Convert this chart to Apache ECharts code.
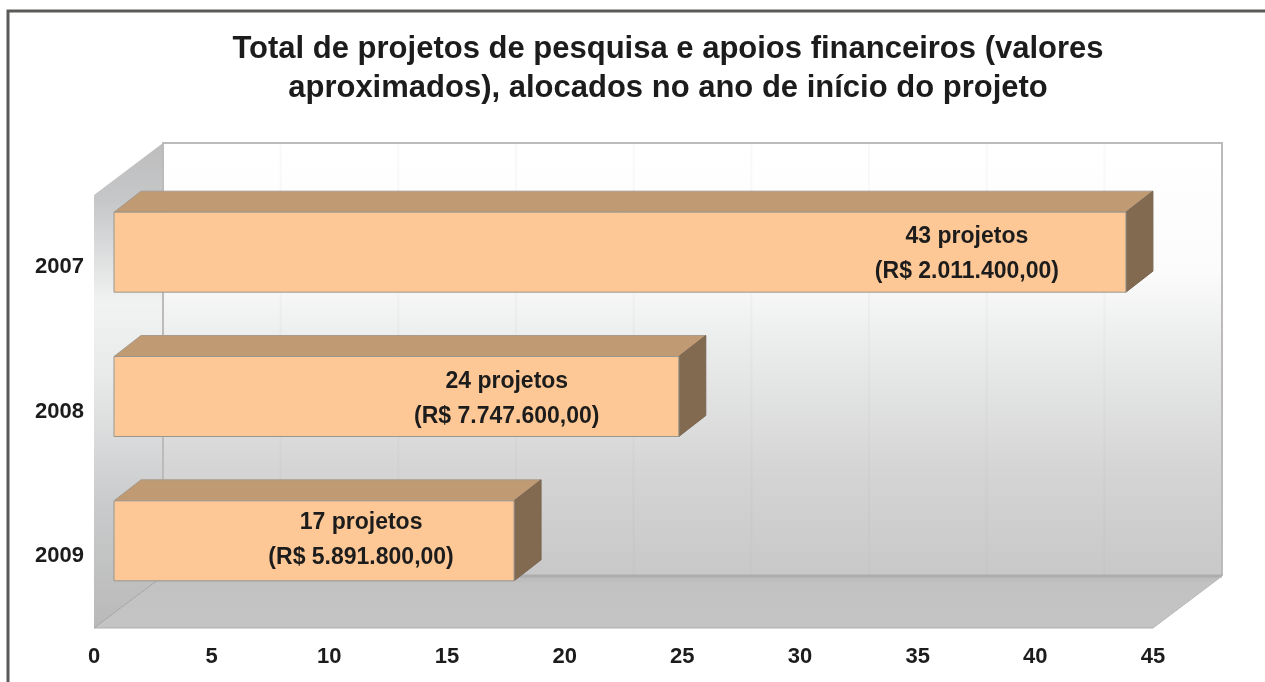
<!DOCTYPE html>
<html>
<head>
<meta charset="utf-8">
<style>html,body{margin:0;padding:0;background:#fff}#c{width:1265px;height:682px}#c canvas{filter:blur(0.6px)}</style>
<script src="https://cdn.jsdelivr.net/npm/echarts@6/dist/echarts.min.js"></script>
</head>
<body>
<div id="c"></div>
<script>
const titleText = "Total de projetos de pesquisa e apoios financeiros (valores\naproximados), alocados no ano de início do projeto";
const years = ["2007", "2008", "2009"];
const projectCounts = [43, 24, 17];
const projectLabels = ["43 projetos", "24 projetos", "17 projetos"];
const amountLabels = ["(R$ 2.011.400,00)", "(R$ 7.747.600,00)", "(R$ 5.891.800,00)"];
const axisMin = 0, axisMax = 45, axisStep = 5;

const FONT = '"Liberation Sans", Arial, sans-serif';
const TEXT = '#1c1c1c';
const WALL_DX = 69, WALL_DY = -52;
const BAR_SHIFT_X = 20, BAR_SHIFT_Y = -15, BAR_H = 80;
const BAR_DX = 27, BAR_DY = -21;
const labelInset = [159, 172, 153];
const labelDrop = [2, 3, -1];

function poly(points, fill, stroke, lw) {
  return { type: 'polygon', shape: { points }, style: { fill, stroke: stroke || null, lineWidth: lw || 0 } };
}
function vgrad(stops) {
  return { type: 'linear', x: 0, y: 0, x2: 0, y2: 1,
    colorStops: stops.map(s => ({ offset: s[0], color: s[1] })) };
}

function renderWalls(params, api) {
  const bandH = api.size([0, 1])[1];
  const o = api.coord([axisMin, 0]);
  const e = api.coord([axisMax, 0]);
  const xL = o[0], xR = e[0];
  const top = o[1] - bandH / 2;
  const bot = o[1] + bandH * 2.5;
  const children = [];
  // back wall
  children.push(poly([[xL + WALL_DX, top + WALL_DY], [xR + WALL_DX, top + WALL_DY], [xR + WALL_DX, bot + WALL_DY], [xL + WALL_DX, bot + WALL_DY]],
    vgrad([[0, '#ffffff'], [0.3, '#fbfbfb'], [0.45, '#eceded'], [0.75, '#d5d5d6'], [1, '#c8c8c8']])));
  // grid lines on back wall
  for (let v = axisMin + axisStep; v < axisMax; v += axisStep) {
    const p = api.coord([v, 0]);
    children.push({ type: 'line', shape: { x1: p[0] + WALL_DX, y1: top + WALL_DY, x2: p[0] + WALL_DX, y2: bot + WALL_DY },
      style: { stroke: 'rgba(150,150,150,0.06)', lineWidth: 2 } });
  }
  // side wall
  children.push(poly([[xL, top], [xL + WALL_DX, top + WALL_DY], [xL + WALL_DX, bot + WALL_DY], [xL, bot]],
    vgrad([[0, '#bdbdbe'], [0.12, '#c6c7c8'], [0.33, '#f1f2f2'], [0.48, '#e8e9e9'], [0.75, '#c9cacb'], [1, '#b9b9b9']])));
  // floor
  children.push(poly([[xL, bot], [xL + WALL_DX, bot + WALL_DY], [xR + WALL_DX, bot + WALL_DY], [xR, bot]],
    vgrad([[0, '#b9b9b9'], [0.15, '#c2c2c2'], [1, '#c4c4c4']])));
  // wall edges
  const edge = { stroke: '#bdbaba', lineWidth: 2, fill: null };
  children.push({ type: 'polyline', shape: { points: [[xL + WALL_DX, bot + WALL_DY], [xL + WALL_DX, top + WALL_DY], [xR + WALL_DX, top + WALL_DY], [xR + WALL_DX, bot + WALL_DY]] }, style: edge });
  children.push({ type: 'line', shape: { x1: xL + WALL_DX, y1: bot + WALL_DY, x2: xR + WALL_DX, y2: bot + WALL_DY }, style: { stroke: '#adadad', lineWidth: 3 } });
  children.push({ type: 'line', shape: { x1: xL, y1: bot, x2: xL + WALL_DX, y2: bot + WALL_DY }, style: { stroke: '#a4a4a4', lineWidth: 1 } });
  children.push({ type: 'line', shape: { x1: xL, y1: bot, x2: xR, y2: bot }, style: { stroke: '#b0aeae', lineWidth: 1 } });
  children.push({ type: 'line', shape: { x1: xR, y1: bot, x2: xR + WALL_DX, y2: bot + WALL_DY }, style: { stroke: '#b8b8b8', lineWidth: 1 } });
  return { type: 'group', children };
}

function renderBar(params, api) {
  const i = params.dataIndex;
  const start = api.coord([0, api.value(1)]);
  const end = api.coord([api.value(0), api.value(1)]);
  const x0 = start[0] + BAR_SHIFT_X, x1 = end[0] + BAR_SHIFT_X;
  const y0 = start[1] + BAR_SHIFT_Y - BAR_H / 2, y1 = y0 + BAR_H;
  const line = '#9a968e';
  return { type: 'group', children: [
    poly([[x0, y0], [x0 + BAR_DX, y0 + BAR_DY], [x1 + BAR_DX, y0 + BAR_DY], [x1, y0]], '#bf9a73', '#a89a8c', 1),
    poly([[x1, y0], [x1 + BAR_DX, y0 + BAR_DY], [x1 + BAR_DX, y1 + BAR_DY], [x1, y1]], '#826a50', '#7a6650', 1),
    { type: 'rect', shape: { x: x0, y: y0, width: x1 - x0, height: BAR_H }, style: { fill: '#fdc896', stroke: line, lineWidth: 1 } },
    { type: 'text', style: { text: projectLabels[i] + '\n' + amountLabels[i], x: x1 - labelInset[i], y: y0 + BAR_H / 2 + labelDrop[i],
        align: 'center', verticalAlign: 'middle', lineHeight: 35, fontFamily: FONT, fontWeight: 'bold', fontSize: 23, fill: TEXT } }
  ] };
}

const chart = echarts.init(document.getElementById('c'), null, { renderer: 'canvas', width: 1265, height: 682 });
chart.setOption({
  animation: false,
  backgroundColor: '#ffffff',
  title: {
    text: titleText, left: 663, top: 25, textAlign: 'center',
    textStyle: { fontFamily: FONT, fontWeight: 'bold', fontSize: 31, lineHeight: 39, color: TEXT }
  },
  grid: { left: 94, right: 112, top: 195, bottom: 54, containLabel: false },
  xAxis: {
    type: 'value', min: axisMin, max: axisMax, interval: axisStep,
    axisLine: { show: false }, axisTick: { show: false }, splitLine: { show: false },
    axisLabel: { margin: 18, fontFamily: FONT, fontWeight: 'bold', fontSize: 22, color: TEXT }
  },
  yAxis: {
    type: 'category', inverse: true, data: years,
    axisLine: { show: false }, axisTick: { show: false }, splitLine: { show: false },
    axisLabel: { margin: 10, padding: [5, 0, 0, 0], fontFamily: FONT, fontWeight: 'bold', fontSize: 22, color: TEXT }
  },
  graphic: [
    { type: 'polyline', silent: true, shape: { points: [[8, 682], [8, 11], [1265, 11]] },
      style: { stroke: '#5a5a58', lineWidth: 3, fill: null } }
  ],
  series: [
    { type: 'custom', coordinateSystem: 'cartesian2d', z: 1, clip: false, silent: true,
      renderItem: renderWalls, data: [[axisMin, 0]] },
    { type: 'custom', coordinateSystem: 'cartesian2d', z: 2, clip: false, silent: true,
      renderItem: renderBar, encode: { x: 0, y: 1 },
      data: projectCounts.map((v, i) => [v, i]) }
  ]
});
</script>
</body>
</html>
